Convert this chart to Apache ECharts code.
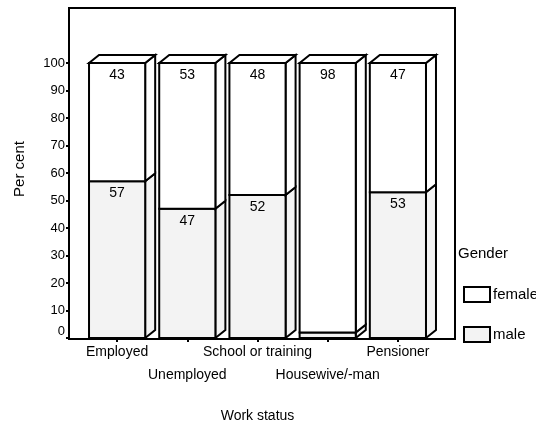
<!DOCTYPE html>
<html>
<head>
<meta charset="utf-8">
<script src="https://cdn.jsdelivr.net/npm/echarts@6/dist/echarts.min.js"></script>
<style>
  html, body { margin: 0; padding: 0; background: #fff; }
  #chart { width: 536px; height: 428px; }
</style>
</head>
<body>
<div id="chart"></div>
<script>
// work status categories and percentages per gender
var categories = ['Employed', 'Unemployed', 'School or training', 'Housewive/-man', 'Pensioner'];
var male = [57, 47, 52, 2, 53];
var female = [43, 53, 48, 98, 47];
var yTicks = [0, 10, 20, 30, 40, 50, 60, 70, 80, 90, 100];

var FONT = '"Liberation Sans", Arial, sans-serif';
var DX = 10, DY = 8;

function makeRender(fill, isTop) {
  return function (params, api) {
    var i = api.value(0);
    var lo = api.value(1);
    var hi = api.value(2);
    var pb = api.coord([i, lo]);
    var pt = api.coord([i, hi]);
    var w = api.size([1, 0])[0] * 0.8;
    var x0 = pb[0] - w / 2;
    var x1 = x0 + w;
    var stroke = { stroke: '#000', lineWidth: 2, fill: fill };
    var children = [
      {
        type: 'polygon',
        shape: { points: [[x1, pb[1]], [x1, pt[1]], [x1 + DX, pt[1] - DY], [x1 + DX, pb[1] - DY]] },
        style: stroke
      },
      {
        type: 'rect',
        shape: { x: x0, y: pt[1], width: w, height: pb[1] - pt[1] },
        style: stroke
      }
    ];
    if (isTop) {
      children.push({
        type: 'polygon',
        shape: { points: [[x0, pt[1]], [x0 + DX, pt[1] - DY], [x1 + DX, pt[1] - DY], [x1, pt[1]]] },
        style: stroke
      });
    }
    var v = hi - lo;
    if (v >= 5) {
      children.push({
        type: 'text',
        style: {
          x: x0 + w / 2, y: pt[1] + 12,
          text: String(v), align: 'center', verticalAlign: 'middle',
          fill: '#000', fontSize: 14, fontFamily: FONT
        }
      });
    }
    return { type: 'group', children: children };
  };
}

var maleData = male.map(function (v, i) { return [i, 0, v]; });
var femaleData = female.map(function (v, i) { return [i, male[i], male[i] + v]; });

var chart = echarts.init(document.getElementById('chart'));
chart.setOption({
  animation: false,
  backgroundColor: '#fff',
  textStyle: { fontFamily: FONT },
  title: {
    text: 'Gender', left: 458, top: 246, padding: 0,
    textStyle: { fontSize: 15, fontWeight: 'normal', color: '#000', fontFamily: FONT }
  },
  legend: {
    data: ['female', 'male'],
    orient: 'vertical',
    left: 463, top: 286,
    padding: 0,
    itemWidth: 26, itemHeight: 15, itemGap: 23,
    icon: 'rect',
    itemStyle: { borderColor: '#000', borderWidth: 2 },
    textStyle: { fontSize: 15, color: '#000', fontFamily: FONT, padding: [0, 0, 0, -2] }
  },
  grid: { left: 82, right: 103, top: 8, bottom: 89 },
  graphic: [{
    type: 'rect',
    shape: { x: 69, y: 8, width: 386, height: 331 },
    style: { fill: 'none', stroke: '#000', lineWidth: 2 },
    z: 10
  }],
  xAxis: {
    type: 'category',
    data: categories,
    boundaryGap: true,
    name: 'Work status',
    nameLocation: 'middle',
    nameGap: 71,
    nameTextStyle: { fontSize: 14, color: '#000', fontFamily: FONT },
    axisLine: { show: false },
    axisTick: { show: true, alignWithLabel: true, length: 4, lineStyle: { color: '#000', width: 2 } },
    axisLabel: {
      interval: 0, margin: 3, fontSize: 14, color: '#000', lineHeight: 23,
      formatter: function (v, i) { return i % 2 ? '\n' + v : v; }
    },
    splitLine: { show: false }
  },
  yAxis: {
    type: 'value',
    min: 0, max: 120, interval: 10,
    offset: 13,
    name: 'Per cent',
    nameLocation: 'middle',
    nameGap: 42,
    nameRotate: 90,
    nameTextStyle: { fontSize: 15, color: '#000', fontFamily: FONT, padding: [0, 0, 0, 8] },
    axisLine: { show: false },
    axisTick: { show: true, length: 3, customValues: yTicks, lineStyle: { color: '#000', width: 2 } },
    axisLabel: {
      customValues: yTicks, margin: 4, fontSize: 13, color: '#000',
      formatter: function (v) { return v === 0 ? '{z|0}' : String(v); },
      rich: { z: { fontSize: 13, color: '#000', fontFamily: FONT, padding: [0, 0, 13, 0] } }
    },
    splitLine: { show: false }
  },
  series: [
    {
      name: 'male', type: 'custom',
      renderItem: makeRender('#f3f3f3', false),
      encode: { x: 0, y: [1, 2] },
      itemStyle: { color: '#f3f3f3', borderColor: '#000', borderWidth: 2 },
      data: maleData
    },
    {
      name: 'female', type: 'custom',
      renderItem: makeRender('#ffffff', true),
      encode: { x: 0, y: [1, 2] },
      itemStyle: { color: '#ffffff', borderColor: '#000', borderWidth: 2 },
      data: femaleData
    }
  ]
});
</script>
</body>
</html>
